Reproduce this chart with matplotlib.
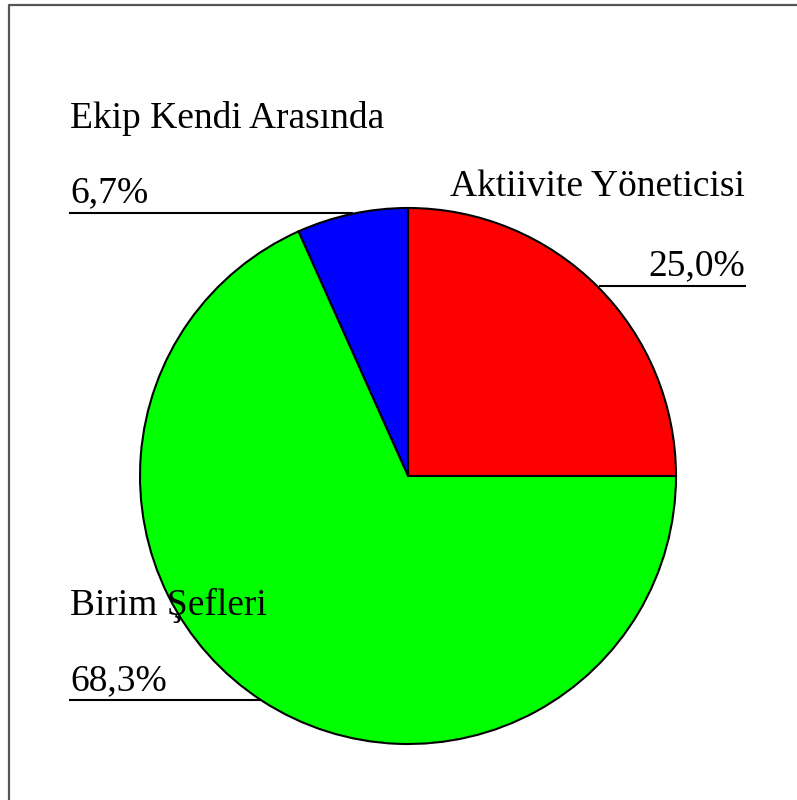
import matplotlib.pyplot as plt

labels = ['Aktiivite Yöneticisi', 'Ekip Kendi Arasında', 'Birim Şefleri']
values = [25.0, 6.7, 68.3]
colors = ['#FF0000', '#0000FF', '#00FF00']
pct_text = ['25,0%', '6,7%', '68,3%']

plt.rcParams['font.family'] = ['Liberation Serif', 'DejaVu Serif']

W, H = 797, 800
fig = plt.figure(figsize=(W / 100, H / 100), dpi=100)
ax = fig.add_axes([0, 0, 1, 1])
ax.set_xlim(0, W)
ax.set_ylim(0, H)
ax.set_aspect('equal')
ax.axis('off')

def py(y):  # pixel row -> data y
    return H - y

# frame (only left/top visible in the picture)
ax.plot([9, 9, W + 5], [py(H + 5), py(5), py(5)], color='#555555', lw=1.6, clip_on=False)

# pie
ax.pie(values, colors=colors, startangle=0, counterclock=True,
       center=(408, py(476)), radius=268,
       wedgeprops=dict(edgecolor='black', linewidth=1.5))
ax.set_xlim(0, W)
ax.set_ylim(0, H)

fs = 27
# Aktiivite Yöneticisi (right)
ax.text(745, py(196), labels[0], ha='right', va='baseline', fontsize=fs)
ax.text(745, py(275), pct_text[0], ha='right', va='baseline', fontsize=fs)
ax.plot([600, 745], [py(286), py(286)], color='black', lw=1.5)

# Ekip Kendi Arasında (top left)
ax.text(70, py(128), labels[1], ha='left', va='baseline', fontsize=fs)
ax.text(70, py(202), pct_text[1], ha='left', va='baseline', fontsize=fs)
ax.plot([70, 352], [py(213), py(213)], color='black', lw=1.5)

# Birim Şefleri (bottom left)
ax.text(70, py(615), labels[2], ha='left', va='baseline', fontsize=fs)
ax.text(70, py(690), pct_text[2], ha='left', va='baseline', fontsize=fs)
ax.plot([70, 260], [py(700), py(700)], color='black', lw=1.5)

fig.savefig('out.png', dpi=100)
